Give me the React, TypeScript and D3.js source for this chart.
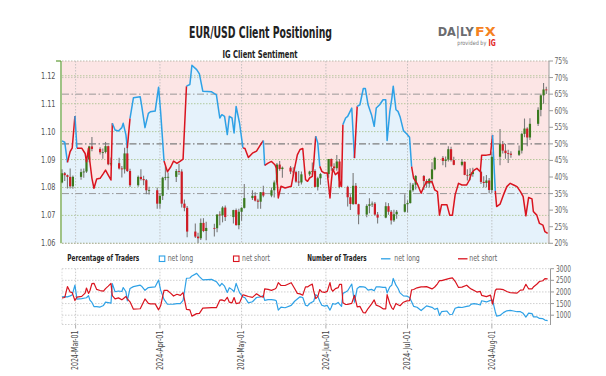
import React from 'react';
import * as d3 from 'd3';

// ---------- DATA ----------
const candleOpen = [
  1.0818,1.0851,1.0844,1.0838,
  1.0804,1.0838,1.0855,1.0857,1.0900,1.0947,1.0938,1.0926,1.0927,1.0948,1.0883,1.0887,1.0868,1.0865,1.0922,1.0859,1.0808,1.0838,1.0830,1.0826,1.0790,
  1.0790,1.0742,1.0770,1.0835,1.0837,1.0838,1.0859,1.0857,1.0742,1.0727,1.0642,1.0624,1.0618,1.0673,1.0644,1.0655,1.0654,1.0703,1.0700,1.0728,1.0694,1.0719,
  1.0665,1.0713,1.0727,1.0762,1.0770,1.0753,1.0749,1.0783,1.0771,1.0790,1.0818,1.0882,1.0866,1.0871,1.0857,1.0855,1.0821,1.0818,1.0847,1.0857,1.0859,1.0802,1.0833,
  1.0848,1.0902,1.0875,1.0869,1.0893,1.0802,1.0765,1.0741,1.0806,1.0740,1.0703,1.0734,1.0740,1.0742,1.0703,1.0692,1.0733,1.0713,1.0682,1.0704,
  1.0713,1.0740,1.0744,1.0790,1.0810,1.0841,1.0823,1.0814,1.0830,1.0865,1.0906,1.0895,1.0900,1.0937,1.0898,1.0881,1.0892,1.0845,1.0843,1.0848,1.0856,1.0820,1.0816,
  1.0825,1.0791,1.0910,1.0955,1.0932,1.0923,1.0921,1.0917,1.0932,1.0992,1.1011,1.0979,1.1028,1.1078,1.1130,1.1151,
];
const candleHigh = [
  1.0865,1.0855,1.0846,1.0868,
  1.0843,1.0867,1.0868,1.0908,1.0949,1.0981,1.0944,1.0940,1.0963,1.0950,1.0907,1.0906,1.0877,1.0942,1.0942,1.0867,1.0843,1.0865,1.0842,1.0830,1.0803,
  1.0800,1.0777,1.0838,1.0876,1.0854,1.0866,1.0885,1.0865,1.0757,1.0734,1.0671,1.0638,1.0689,1.0690,1.0677,1.0670,1.0704,1.0715,1.0733,1.0735,1.0720,1.0725,
  1.0724,1.0729,1.0812,1.0790,1.0783,1.0760,1.0784,1.0806,1.0800,1.0825,1.0888,1.0895,1.0875,1.0877,1.0872,1.0860,1.0859,1.0857,1.0860,1.0889,1.0865,1.0838,1.0852,
  1.0902,1.0904,1.0887,1.0916,1.0902,1.0806,1.0776,1.0852,1.0816,1.0742,1.0740,1.0761,1.0750,1.0748,1.0712,1.0747,1.0744,1.0719,1.0720,1.0719,
  1.0776,1.0754,1.0817,1.0816,1.0845,1.0845,1.0829,1.0834,1.0890,1.0910,1.0913,1.0911,1.0948,1.0946,1.0910,1.0902,1.0893,1.0865,1.0869,1.0871,1.0860,1.0840,1.0845,
  1.0834,1.0926,1.1009,1.0966,1.0956,1.0935,1.0930,1.0950,1.0996,1.1047,1.1016,1.1048,1.1087,1.1133,1.1174,1.1161,
];
const candleLow = [
  1.0815,1.0823,1.0796,1.0796,
  1.0795,1.0828,1.0835,1.0852,1.0890,1.0930,1.0918,1.0903,1.0922,1.0880,1.0878,1.0864,1.0836,1.0850,1.0855,1.0802,1.0803,1.0825,1.0808,1.0776,1.0775,
  1.0724,1.0725,1.0755,1.0826,1.0792,1.0820,1.0845,1.0728,1.0715,1.0622,1.0619,1.0601,1.0612,1.0640,1.0611,1.0624,1.0640,1.0665,1.0675,1.0680,1.0671,1.0664,
  1.0650,1.0681,1.0725,1.0755,1.0750,1.0724,1.0724,1.0765,1.0765,1.0764,1.0810,1.0860,1.0835,1.0848,1.0840,1.0817,1.0805,1.0811,1.0840,1.0845,1.0801,1.0789,1.0810,
  1.0835,1.0860,1.0862,1.0860,1.0797,1.0732,1.0719,1.0737,1.0742,1.0668,1.0693,1.0708,1.0730,1.0700,1.0671,1.0690,1.0702,1.0667,1.0676,1.0688,
  1.0710,1.0710,1.0743,1.0785,1.0793,1.0791,1.0799,1.0800,1.0814,1.0862,1.0880,1.0872,1.0893,1.0893,1.0880,1.0876,1.0844,1.0825,1.0826,1.0838,1.0812,1.0800,1.0801,
  1.0778,1.0780,1.0880,1.0922,1.0903,1.0888,1.0906,1.0913,1.0922,1.0980,1.0948,1.0970,1.1020,1.1055,1.1100,1.1135,
];
const candleClose = [
  1.0851,1.0844,1.0838,1.0804,
  1.0838,1.0855,1.0857,1.0900,1.0947,1.0938,1.0926,1.0927,1.0948,1.0883,1.0887,1.0868,1.0865,1.0922,1.0859,1.0808,1.0838,1.0830,1.0826,1.0790,1.0790,
  1.0742,1.0770,1.0835,1.0837,1.0838,1.0859,1.0857,1.0742,1.0727,1.0642,1.0624,1.0618,1.0673,1.0644,1.0655,1.0654,1.0703,1.0700,1.0728,1.0694,1.0719,1.0665,
  1.0713,1.0727,1.0762,1.0770,1.0753,1.0749,1.0783,1.0771,1.0790,1.0818,1.0882,1.0866,1.0871,1.0857,1.0855,1.0821,1.0818,1.0847,1.0857,1.0859,1.0802,1.0833,1.0848,
  1.0902,1.0875,1.0869,1.0893,1.0802,1.0765,1.0741,1.0806,1.0740,1.0703,1.0734,1.0740,1.0742,1.0703,1.0692,1.0733,1.0713,1.0682,1.0704,1.0713,
  1.0740,1.0744,1.0790,1.0810,1.0841,1.0823,1.0814,1.0830,1.0865,1.0906,1.0895,1.0900,1.0937,1.0898,1.0881,1.0892,1.0845,1.0843,1.0848,1.0856,1.0820,1.0816,1.0825,
  1.0791,1.0910,1.0955,1.0932,1.0923,1.0921,1.0917,1.0932,1.0992,1.1011,1.0979,1.1028,1.1078,1.1130,1.1151,1.1148,
];

const sentTimes = [
  '2024-02-25T00','2024-02-26T00','2024-02-27T00','2024-02-28T00','2024-02-28T18','2024-02-29T18','2024-03-01T12','2024-03-03T06','2024-03-04T12','2024-03-05T00',
  '2024-03-05T18','2024-03-06T06','2024-03-07T00','2024-03-07T18','2024-03-08T18','2024-03-10T00','2024-03-11T06','2024-03-12T00','2024-03-13T00','2024-03-14T00',
  '2024-03-14T12','2024-03-15T12','2024-03-16T18','2024-03-18T00','2024-03-18T12','2024-03-19T12','2024-03-20T00','2024-03-21T00','2024-03-22T06','2024-03-24T18',
  '2024-03-25T06','2024-03-26T12','2024-03-27T18','2024-03-28T12','2024-03-30T06','2024-03-31T12','2024-04-01T06','2024-04-02T12','2024-04-03T18','2024-04-05T00',
  '2024-04-06T00','2024-04-07T06','2024-04-08T12','2024-04-09T12','2024-04-10T18','2024-04-12T00','2024-04-12T18','2024-04-14T12','2024-04-15T12','2024-04-16T18',
  '2024-04-20T00','2024-04-21T18','2024-04-23T00','2024-04-23T18','2024-04-24T18','2024-04-25T18','2024-04-26T12','2024-04-27T12','2024-04-28T06','2024-04-29T00',
  '2024-04-30T06','2024-05-01T12','2024-05-02T06','2024-05-03T12','2024-05-05T00','2024-05-06T12','2024-05-08T00','2024-05-09T00','2024-05-09T12','2024-05-10T18',
  '2024-05-12T00','2024-05-13T06','2024-05-13T18','2024-05-14T12','2024-05-15T12','2024-05-17T00','2024-05-19T06','2024-05-20T12','2024-05-21T12','2024-05-22T12',
  '2024-05-23T12','2024-05-24T12','2024-05-25T06','2024-05-26T00','2024-05-27T00','2024-05-27T12','2024-05-28T06','2024-05-29T00','2024-05-29T18','2024-05-30T12',
  '2024-05-31T12','2024-06-01T12','2024-06-02T12','2024-06-03T00','2024-06-03T12','2024-06-04T12','2024-06-05T12','2024-06-06T00','2024-06-06T18','2024-06-07T06',
  '2024-06-08T06','2024-06-09T00','2024-06-10T12','2024-06-11T12','2024-06-12T12','2024-06-13T12','2024-06-14T18','2024-06-15T12','2024-06-16T12','2024-06-17T18',
  '2024-06-18T18','2024-06-19T12','2024-06-20T18','2024-06-22T00','2024-06-23T00','2024-06-23T12','2024-06-24T12','2024-06-25T06','2024-06-25T18','2024-06-26T18',
  '2024-06-27T12','2024-06-28T06','2024-06-29T12','2024-06-30T18','2024-07-01T18','2024-07-02T12','2024-07-03T06','2024-07-04T12','2024-07-06T00','2024-07-06T18',
  '2024-07-08T00','2024-07-10T00','2024-07-11T00','2024-07-12T00','2024-07-12T18','2024-07-13T12','2024-07-15T12','2024-07-16T12','2024-07-17T12','2024-07-18T12',
  '2024-07-19T18','2024-07-21T00','2024-07-22T18','2024-07-23T18','2024-07-24T12','2024-07-25T12','2024-07-26T12','2024-07-27T18','2024-07-28T06','2024-07-30T00',
  '2024-07-31T12','2024-08-01T06','2024-08-02T06','2024-08-02T18','2024-08-04T00','2024-08-05T06','2024-08-06T12','2024-08-07T18','2024-08-09T00','2024-08-10T06',
  '2024-08-11T12','2024-08-12T12','2024-08-13T12','2024-08-14T12','2024-08-15T18','2024-08-16T06','2024-08-17T12','2024-08-18T12','2024-08-19T18','2024-08-20T12',
  '2024-08-21T12',
];
const netLongPct = [
  50.9,50.5,44.4,47.7,48.7,58.4,48.7,48.7,47.1,44.6,
  48.7,44.6,39.6,36.6,39.4,39.6,41.1,42.1,40.6,39.1,
  56.2,54.2,53.9,54.9,56.2,52.7,48.7,57.7,63.9,64.2,
  61.7,54.9,59.2,59.7,59.9,67.1,59.7,44.8,41.6,43.1,
  44.8,44.1,44.8,45.4,67.4,67.9,73.7,72.4,71.1,65.9,
  65.7,64.8,57.8,58.8,58.3,52.8,58.3,57.8,53.3,61.3,
  56.3,48.8,48.6,45.9,47.2,47.8,49.8,51.0,43.5,44.2,
  44.7,43.7,42.7,33.7,37.2,36.7,37.2,42.7,46.7,48.3,
  48.6,39.2,38.7,39.7,40.2,43.9,52.3,50.3,43.2,41.7,
  41.2,41.2,33.7,38.7,42.5,40.7,41.5,38.9,37.2,55.8,
  57.8,58.3,60.8,45.7,61.3,61.8,66.7,66.7,61.8,58.8,
  55.3,60.8,61.8,63.3,63.3,51.0,59.8,63.8,67.4,60.3,
  59.8,58.2,54.0,53.0,52.0,43.1,39.6,38.1,35.1,36.6,
  38.6,38.6,36.1,35.6,28.5,31.6,31.6,28.5,28.5,34.6,
  38.1,37.6,37.6,39.1,41.1,42.1,42.6,41.6,46.6,46.6,
  46.8,52.7,35.8,31.1,31.8,34.6,37.1,38.1,37.6,37.1,
  35.6,34.1,28.3,33.8,33.4,29.6,28.5,26.0,25.5,23.5,
  23.0,
];
const netLongCount = [
  1790,1800,1790,1830,1870,2290,1690,1715,1740,1750,
  1840,1650,1550,1370,1370,1350,1420,1560,1540,1520,
  2360,2010,2040,2020,2190,2010,1620,2150,2230,2290,
  2250,2070,2190,2200,2220,2510,2080,1680,1470,1470,
  1480,1500,1500,1640,2590,2600,2690,2800,2660,2520,
  2540,2440,2255,2370,2250,1980,2180,2100,2010,2370,
  1970,1790,1750,1530,1580,1760,1790,1850,1640,1670,
  1670,1650,1620,1220,1350,1320,1420,1600,1700,1790,
  1760,1430,1400,1500,1570,1600,1880,1820,1600,1430,
  1390,1420,1220,1340,1500,1470,1550,1480,1380,1940,
  2000,2050,2340,1560,2150,2230,2220,2200,2080,2110,
  2050,2220,2220,2200,2200,1960,2220,2300,2580,2290,
  2160,1960,1830,1820,1760,1580,1380,1340,1200,1280,
  1400,1340,1250,1300,990,1150,1180,1030,1040,1300,
  1350,1330,1380,1400,1480,1500,1480,1440,1620,1570,
  1640,1650,1150,960,990,1110,1190,1210,1180,1150,
  1150,1080,920,1090,1070,930,930,860,850,790,
  766,
];
const netShortCount = [
  1740,1760,2230,2000,1970,1630,1780,1810,1950,2170,
  1940,2050,2360,2370,2110,2060,2035,2145,2250,2370,
  1840,1700,1745,1660,1710,1805,1705,1575,1260,1277,
  1397,1700,1510,1485,1486,1230,1404,2070,2064,1940,
  1824,1900,1850,1972,1253,1230,960,1067,1081,1304,
  1326,1325,1646,1660,1610,1770,1560,1533,1760,1496,
  1530,1878,1851,1803,1767,1922,1804,1778,2130,2108,
  2066,2126,2174,2400,2279,2277,2397,2147,1940,1916,
  1861,2218,2218,2278,2336,2045,1715,1800,2104,2000,
  1984,2027,2400,2123,2029,2142,2185,2325,2330,1537,
  1460,1466,1509,1856,1357,1380,1109,1100,1287,1478,
  1657,1431,1372,1276,1276,1883,1492,1305,1248,1508,
  1452,1408,1559,1614,1625,2086,2105,2177,2219,2217,
  2227,2131,2213,2352,2484,2489,2554,2584,2609,2457,
  2193,2207,2290,2181,2121,2063,1994,2022,1856,1799,
  1864,1481,2062,2127,2123,2098,2018,1966,1958,1950,
  2080,2087,2331,2135,2134,2212,2333,2448,2483,2572,
  2564,
];

const priceTicks = [1.06, 1.07, 1.08, 1.09, 1.10, 1.11, 1.12];
const pctTicks = [20, 25, 30, 35, 40, 45, 50, 55, 60, 65, 70, 75];
const pctRefLines = [35, 50, 65];
const countTicks = [1000, 1500, 2000, 2500, 3000];
const monthTicks = ['2024-03-01', '2024-04-01', '2024-05-01', '2024-06-01', '2024-07-01', '2024-08-01'];

// ---------- STYLE ----------
const BLUE = '#2ea1e6';
const RED = '#d9141f';
const PINK_BG = '#fce5e5';
const BLUE_BG = '#e5f2fb';
const GREEN_C = '#3a7a1e';
const RED_C = '#cf1b24';
const NARROW = "'Liberation Sans Narrow','DejaVu Sans Condensed','Arial Narrow',sans-serif";

export default function App() {
  const parseT = d3.timeParse('%Y-%m-%dT%H');
  const parseD = d3.timeParse('%Y-%m-%d');
  const fmtMonth = d3.timeFormat('%Y-%b-%d');

  const L = 62, R = 549, T = 61, B = 243.3;
  const x = d3.scaleTime().domain([new Date(2024, 1, 25), new Date(2024, 7, 22)]).range([L, R]);
  const yPrice = d3.scaleLinear().domain([1.06, 1.1253]).range([B, T]);
  const yPct = d3.scaleLinear().domain([20, 75]).range([B, T]);
  const BT = 268.7, BB = 324.5;
  const yCount = d3.scaleLinear().domain([600, 3000]).range([BB, BT]);

  const candleDates = d3.timeDays(new Date(2024, 1, 26), new Date(2024, 7, 23)).filter(d => d.getDay() !== 0 && d.getDay() !== 6);

  const sent = sentTimes.map((s, i) => ({ t: parseT(s) as Date, v: netLongPct[i], l: netLongCount[i], s: netShortCount[i] }));

  const area = d3.area<any>().x(d => x(d.t)).y0(B).y1(d => yPct(d.v));
  const line = d3.line<any>().x(d => x(d.t)).y(d => yPct(d.v));

  const segs: { col: string; pts: any[] }[] = [];
  let cur: any = null;
  for (let i = 0; i < sent.length - 1; i++) {
    const col = sent[i].v > 50 ? BLUE : RED;
    if (!cur || cur.col !== col) { cur = { col, pts: [sent[i]] }; segs.push(cur); }
    cur.pts.push(sent[i + 1]);
  }

  const lineLong = d3.line<any>().x(d => x(d.t)).y(d => yCount(d.l));
  const lineShort = d3.line<any>().x(d => x(d.t)).y(d => yCount(d.s));

  const months = monthTicks.map(m => parseD(m) as Date);

  return (
    <svg width={606} height={376} style={{ position: 'absolute', left: 0, top: 0, background: '#fff' }}>
      {/* title */}
      <text x={260.5} y={38} textAnchor="middle" fontFamily={NARROW} fontWeight={700} fontSize={15} fill="#222"
        textLength={143} lengthAdjust="spacingAndGlyphs">EUR/USD Client Positioning</text>
      <text x={260} y={57.7} textAnchor="middle" fontFamily={NARROW} fontWeight={700} fontSize={11} fill="#222"
        textLength={75} lengthAdjust="spacingAndGlyphs">IG Client Sentiment</text>

      {/* logo */}
      <text x={437.7} y={36} fontFamily="'DejaVu Sans',sans-serif" fontWeight={700} fontSize={12} fill="#6b6c70"
        textLength={36} lengthAdjust="spacingAndGlyphs">DA|LY</text>
      <text x={475} y={36} fontFamily="'DejaVu Sans',sans-serif" fontWeight={700} fontSize={12} fill="#f5821f"
        textLength={20.7} lengthAdjust="spacingAndGlyphs">FX</text>
      <text x={457.3} y={44.5} fontFamily={NARROW} fontSize={6} fill="#777"
        textLength={29} lengthAdjust="spacingAndGlyphs">provided by</text>
      <text x={488.5} y={45.5} fontFamily="'DejaVu Sans',sans-serif" fontWeight={700} fontSize={8.5} fill="#e2231a"
        textLength={7.3} lengthAdjust="spacingAndGlyphs">IG</text>

      {/* main background */}
      <rect x={L} y={T} width={R - L} height={B - T} fill={PINK_BG} />
      <path d={area(sent) || ''} fill={BLUE_BG} />

      {/* price grid */}
      {priceTicks.map(p => (
        <line key={'pg' + p} x1={L} x2={R} y1={yPrice(p)} y2={yPrice(p)} stroke="#a3bf86" strokeWidth={0.8} strokeDasharray="1.5,1.5" />
      ))}
      <line x1={L} x2={R} y1={yPct(70)} y2={yPct(70)} stroke="#b9b9a8" strokeWidth={0.7} strokeDasharray="1.5,1.5" />
      <line x1={L} x2={R} y1={T} y2={T} stroke="#a9a99a" strokeWidth={0.8} strokeDasharray="1.5,1.5" />
      {/* month grid main */}
      {months.map((m, i) => (
        <line key={'mg' + i} x1={x(m)} x2={x(m)} y1={T} y2={B} stroke="#b8b8b8" strokeWidth={0.8} strokeDasharray="1.5,1.5" />
      ))}
      {/* reference dash-dot lines */}
      {pctRefLines.map(p => (
        <line key={'rl' + p} x1={L} x2={R} y1={yPct(p)} y2={yPct(p)} stroke={p === 50 ? '#7d7d7d' : '#8f8f8f'}
          strokeWidth={p === 50 ? 1.3 : 0.9} strokeDasharray="7,2.5,1.5,2.5" />
      ))}

      {/* candles */}
      {candleDates.map((d, i) => {
        const cx = x(d3.timeDay.offset(d, -1));
        const o = candleOpen[i], c = candleClose[i];
        const up = c >= o;
        const y1 = yPrice(Math.max(o, c)), y2 = yPrice(Math.min(o, c));
        return (
          <g key={'c' + i}>
            <line x1={cx} x2={cx} y1={yPrice(candleHigh[i])} y2={yPrice(candleLow[i])} stroke="#7b7b7b" strokeWidth={1.1} />
            <rect x={cx - 1.1} y={y1} width={2.2} height={Math.max(0.8, y2 - y1)} fill={up ? GREEN_C : RED_C} />
          </g>
        );
      })}

      {/* sentiment line */}
      {segs.map((s, i) => (
        <path key={'s' + i} d={line(s.pts) || ''} fill="none" stroke={s.col} strokeWidth={1.5} strokeLinejoin="round" />
      ))}

      <line x1={L} x2={R} y1={B} y2={B} stroke="#a9a99a" strokeWidth={0.8} strokeDasharray="1.5,1.5" />

      {/* left axis */}
      <line x1={61} x2={61} y1={T} y2={B} stroke="#5f9a34" strokeWidth={1.2} />
      <line x1={56} x2={61} y1={T} y2={T} stroke="#5f9a34" strokeWidth={1.2} />
      {priceTicks.map(p => (
        <text key={'pl' + p} x={55.5} y={yPrice(p) + 3} textAnchor="end" fontFamily={NARROW} fontSize={9} fill="#555"
          textLength={14.5} lengthAdjust="spacingAndGlyphs">{p.toFixed(2)}</text>
      ))}

      {/* right axis */}
      <line x1={R} x2={R} y1={T} y2={B} stroke="#9a9a9a" strokeWidth={1} />
      {pctTicks.map(p => (
        <g key={'pt' + p}>
          <line x1={R} x2={R + 4} y1={yPct(p)} y2={yPct(p)} stroke="#9a9a9a" strokeWidth={1} />
          <text x={R + 5.5} y={yPct(p) + 3} fontFamily={NARROW} fontSize={9} fill="#666"
            textLength={13.5} lengthAdjust="spacingAndGlyphs">{p + '%'}</text>
        </g>
      ))}

      {/* legend */}
      <text x={67.3} y={261} fontFamily={NARROW} fontWeight={700} fontSize={8.5} fill="#222" textLength={72} lengthAdjust="spacingAndGlyphs">Percentage of Traders</text>
      <rect x={159.3} y={256} width={5.5} height={5.5} fill="#fff" stroke={BLUE} strokeWidth={1.1} />
      <text x={167.7} y={261} fontFamily={NARROW} fontSize={8.5} fill="#666" textLength={25.5} lengthAdjust="spacingAndGlyphs">net long</text>
      <rect x={233.5} y={256} width={5.5} height={5.5} fill="#fff" stroke={RED} strokeWidth={1.1} />
      <text x={242} y={261} fontFamily={NARROW} fontSize={8.5} fill="#666" textLength={28} lengthAdjust="spacingAndGlyphs">net short</text>
      <text x={307.3} y={261} fontFamily={NARROW} fontWeight={700} fontSize={8.5} fill="#222" textLength={59.4} lengthAdjust="spacingAndGlyphs">Number of Traders</text>
      <line x1={381} x2={390.5} y1={258.8} y2={258.8} stroke={BLUE} strokeWidth={1.3} />
      <text x={394.3} y={261} fontFamily={NARROW} fontSize={8.5} fill="#666" textLength={25.5} lengthAdjust="spacingAndGlyphs">net long</text>
      <line x1={458} x2={467.5} y1={258.8} y2={258.8} stroke={RED} strokeWidth={1.3} />
      <text x={469.3} y={261} fontFamily={NARROW} fontSize={8.5} fill="#666" textLength={28} lengthAdjust="spacingAndGlyphs">net short</text>

      {/* bottom panel */}
      {countTicks.map(c => (
        <line key={'cg' + c} x1={L} x2={550.5} y1={yCount(c)} y2={yCount(c)} stroke="#c4c4c4" strokeWidth={0.8} strokeDasharray="1.5,1.5" />
      ))}
      <line x1={L} x2={550.5} y1={BB} y2={BB} stroke="#c4c4c4" strokeWidth={0.8} strokeDasharray="1.5,1.5" />
      <line x1={L} x2={L} y1={BT} y2={BB} stroke="#d0d0d0" strokeWidth={0.8} strokeDasharray="1.5,1.5" />
      {months.map((m, i) => (
        <g key={'mb' + i}>
          <line x1={x(m)} x2={x(m)} y1={BT} y2={BB} stroke="#bdbdbd" strokeWidth={0.8} strokeDasharray="1.5,1.5" />
          <line x1={x(m)} x2={x(m)} y1={BB} y2={BB + 4} stroke="#999" strokeWidth={0.8} />
          <text transform={`translate(${x(m) + 2.8},${330.5}) rotate(-90)`} textAnchor="end" fontFamily={NARROW} fontSize={8.5} fill="#444"
            textLength={39.5} lengthAdjust="spacingAndGlyphs">{fmtMonth(m)}</text>
        </g>
      ))}
      <path d={lineLong(sent) || ''} fill="none" stroke={BLUE} strokeWidth={1.2} strokeLinejoin="round" />
      <path d={lineShort(sent) || ''} fill="none" stroke={RED} strokeWidth={1.2} strokeLinejoin="round" />

      <line x1={550.5} x2={550.5} y1={BT} y2={BB + 0.5} stroke="#9a9a9a" strokeWidth={1} />
      {countTicks.map(c => (
        <g key={'ct' + c}>
          <line x1={550.5} x2={554} y1={yCount(c)} y2={yCount(c)} stroke="#9a9a9a" strokeWidth={1} />
          <text x={556} y={yCount(c) + 3} fontFamily={NARROW} fontSize={9} fill="#666"
            textLength={c >= 1000 ? 15 : 11} lengthAdjust="spacingAndGlyphs">{c}</text>
        </g>
      ))}
    </svg>
  );
}
